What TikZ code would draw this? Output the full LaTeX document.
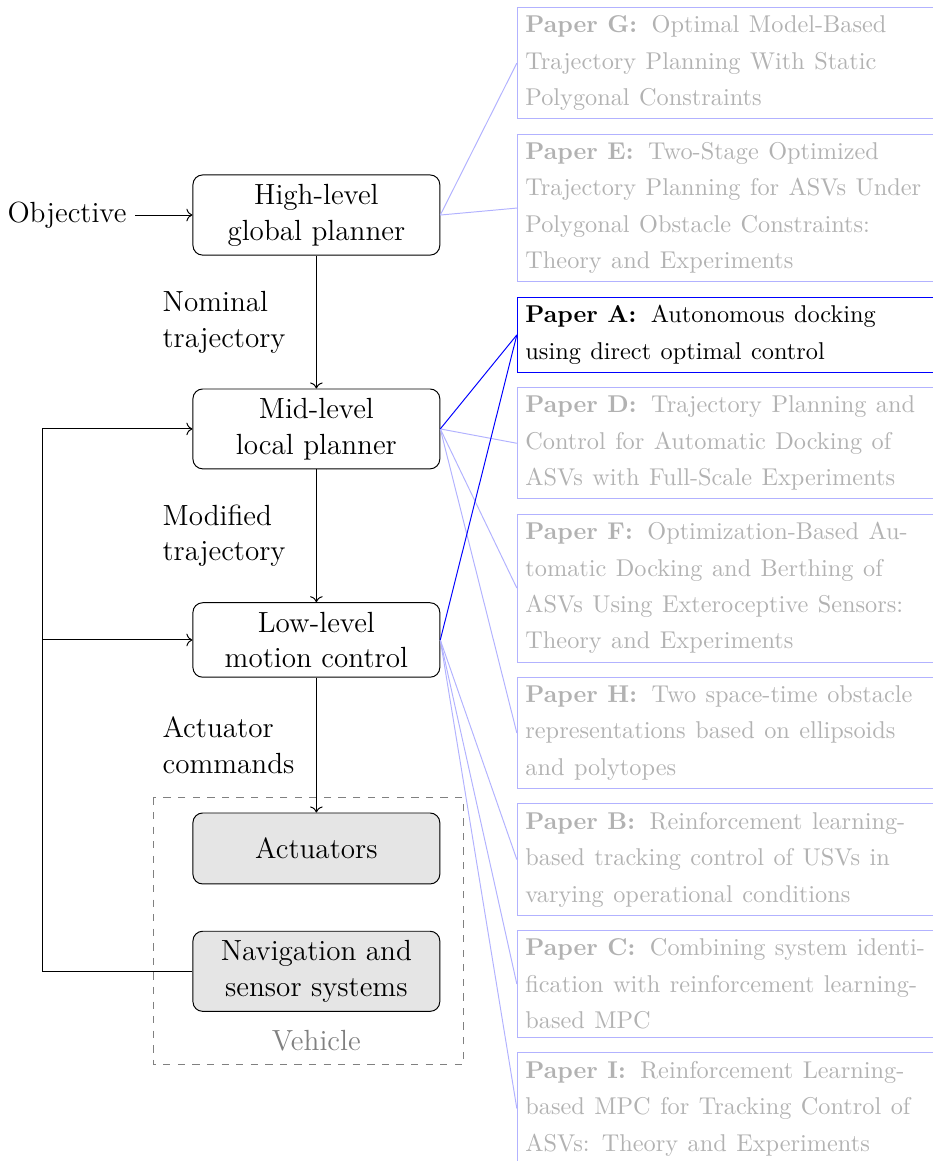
\documentclass[tikz,border=0pt]{standalone}
\usepackage{xcolor}
\usetikzlibrary{arrows.meta,positioning}

\begin{document}
\begin{tikzpicture}[
  node distance=19.5mm,
  block/.style ={draw, rounded corners=4pt, align=center, font=\fontsize{12}{14.7}\selectfont,
                 minimum width=101.6pt, minimum height=29.2pt, inner ysep=3.75pt},
  hw/.style    ={block, fill=gray!20},
  lbl/.style   ={font=\fontsize{12}{14.7}\selectfont, align=left, text width=20mm, left, xshift=-1mm},
  paper/.style ={draw=blue!30, text=gray!60, align=left, text width=165pt,
                 font=\fontsize{10}{15}\selectfont,
                 execute at begin node={\spaceskip=3.9pt\relax}},
  paperA/.style={paper, draw=blue, text=black},
  arr/.style   ={-To},
  lnk/.style   ={blue!30},
  lnkA/.style  ={blue}
]
\useasboundingbox (-130.2pt,88.5pt) rectangle (253.7pt,-389.3pt);

% control hierarchy
\node[block] (high) at (0,0) {High-level\\global planner};
\node[block, below=54.7pt of high] (mid) {Mid-level\\local planner};
\node[block, below=54.7pt of mid] (low) {Low-level\\motion control};
\node[hw,    below=of low] (act) {Actuators};
\node[hw,    below=6.7mm of act] (nav) {Navigation and\\sensor systems};
\node[font=\fontsize{12}{14.7}\selectfont, left=8.3mm of high] (obj) {Objective};
\node[font=\fontsize{12}{14.7}\selectfont, text=gray, below=1.45mm of nav] (vehlbl) {Vehicle};
\draw[dashed, gray] ([xshift=-16pt, yshift=6.2pt]act.north west)
      rectangle ([xshift=9.5pt, yshift=-21.8pt]nav.south east);
\coordinate[left=21.7mm of nav.west] (fb);

\draw[arr] (obj) -- (high);
\draw[arr] (high) -- node[lbl] {Nominal\\trajectory} (mid);
\draw[arr] (mid)  -- node[lbl] {Modified\\trajectory} (low);
\draw[arr] (low)  -- node[lbl] {Actuator\\commands} (act);
\draw[arr] (nav.west) -- (fb) |- (mid.west);
\draw[arr] (fb) |- (low.west);

% papers
\node[paper, anchor=north west] (pg) at (82.5pt,85.6pt)
      {\textbf{Paper G:}\hspace{6pt}Optimal Model-Based\\Trajectory Planning With Static\\Polygonal Constraints};
\node[paper, below=2.1mm of pg] (pe)
      {\textbf{Paper E:}\hspace{6pt}Two-Stage Optimized\\Trajectory Planning for ASVs Under\\Polygonal Obstacle Constraints:\\Theory and Experiments};
\node[paperA, below=2.1mm of pe] (pa)
      {\textbf{Paper A:}\hspace{6pt}Autonomous docking\\using direct optimal control};
\node[paper, below=2.1mm of pa] (pd)
      {\textbf{Paper D:}\hspace{6pt}Trajectory Planning and\\Control for Automatic Docking of\\ASVs with Full-Scale Experiments};
\node[paper, below=2.1mm of pd] (pf)
      {\textbf{Paper F:}\hspace{6pt}Optimization-Based Au-\\tomatic Docking and Berthing of\\ASVs Using Exteroceptive Sensors:\\Theory and Experiments};
\node[paper, below=2.1mm of pf] (ph)
      {\textbf{Paper H:}\hspace{6pt}Two space-time obstacle\\representations based on ellipsoids\\and polytopes};
\node[paper, below=2.1mm of ph] (pb)
      {\textbf{Paper B:}\hspace{6pt}Reinforcement learning-\\based tracking control of USVs in\\varying operational conditions};
\node[paper, below=2.1mm of pb] (pc)
      {\textbf{Paper C:}\hspace{6pt}Combining system identi-\\fication with reinforcement learning-\\based MPC};
\node[paper, below=2.1mm of pc] (pi)
      {\textbf{Paper I:}\hspace{6pt}Reinforcement Learning-\\based MPC for Tracking Control of\\ASVs: Theory and Experiments};

\draw[lnk] (high.east) -- (pg.west);
\draw[lnk] (high.east) -- (pe.west);
\draw[lnk] (mid.east) -- (pd.west);
\draw[lnk] (mid.east) -- (pf.west);
\draw[lnk] (mid.east) -- (ph.west);
\draw[lnk] (low.east) -- (pb.west);
\draw[lnk] (low.east) -- (pc.west);
\draw[lnk] (low.east) -- (pi.west);
\draw[lnkA] (mid.east) -- (pa.west);
\draw[lnkA] (low.east) -- (pa.west);
\end{tikzpicture}
\end{document}
